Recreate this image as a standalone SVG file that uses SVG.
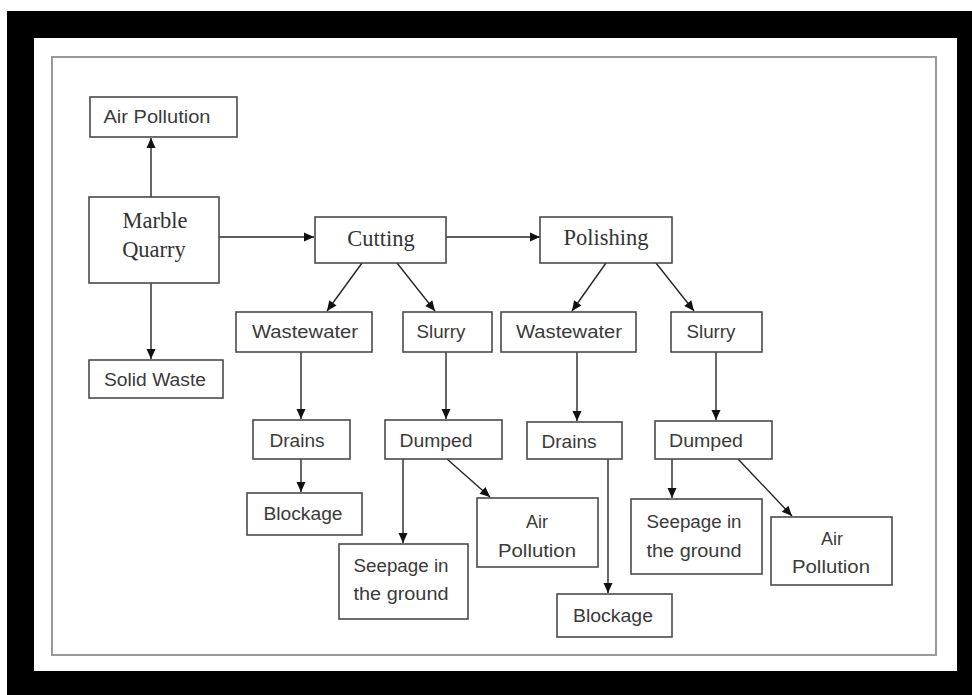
<svg xmlns="http://www.w3.org/2000/svg" width="972" height="695" viewBox="0 0 972 695">
<style>
.box{fill:#fff;stroke:#4a4a4a;stroke-width:1.6}
.sans{font-family:"Liberation Sans",Arial,sans-serif;font-size:17.5px;fill:#3a3a3a;text-anchor:middle}
.serif{font-family:"Liberation Serif","Times New Roman",serif;font-size:22.5px;fill:#333;text-anchor:middle}
.conn line{stroke:#262626;stroke-width:1.4;marker-end:url(#ah)}
</style>
<defs>
<marker id="ah" markerUnits="userSpaceOnUse" markerWidth="12" markerHeight="12" viewBox="0 0 12 12" refX="11" refY="6" orient="auto">
<path d="M1,1.5 L11,6 L1,10.5 Z" fill="#111"/>
</marker>
</defs>
<rect x="0" y="0" width="972" height="695" fill="#fff"/>
<path d="M7,11 H972 V695 H7 Z M34,38 V671 H957 V38 Z" fill="#000" fill-rule="evenodd"/>
<rect x="52" y="57" width="884" height="598" fill="none" stroke="#999" stroke-width="2"/>

<g class="conn">
<line x1="151" y1="197" x2="151" y2="138"/>
<line x1="151" y1="283" x2="151" y2="359"/>
<line x1="219" y1="237" x2="314" y2="237"/>
<line x1="446" y1="237" x2="540" y2="237"/>
<line x1="362" y1="263" x2="327" y2="311"/>
<line x1="397" y1="263" x2="435" y2="311"/>
<line x1="606" y1="263" x2="572" y2="311"/>
<line x1="656" y1="263" x2="694" y2="311"/>
<line x1="301" y1="352" x2="301" y2="419"/>
<line x1="301" y1="459" x2="301" y2="492"/>
<line x1="446" y1="352" x2="446" y2="419"/>
<line x1="403" y1="459" x2="403" y2="543"/>
<line x1="447" y1="459" x2="490" y2="497"/>
<line x1="577" y1="352" x2="577" y2="421"/>
<line x1="608" y1="459" x2="608" y2="593"/>
<line x1="716" y1="352" x2="716" y2="420"/>
<line x1="672" y1="459" x2="672" y2="498"/>
<line x1="738" y1="459" x2="792" y2="516"/>
</g>

<g id="air-pollution-top"><rect class="box" x="90" y="97" width="147" height="40"/><text class="sans" x="157" y="123" textLength="107" lengthAdjust="spacingAndGlyphs">Air Pollution</text></g>
<g id="marble-quarry"><rect class="box" x="89" y="197" width="130" height="86"/><text class="serif" x="155" y="228">Marble</text><text class="serif" x="154" y="257">Quarry</text></g>
<g id="solid-waste"><rect class="box" x="89" y="360" width="134" height="38"/><text class="sans" x="155" y="386" textLength="102" lengthAdjust="spacingAndGlyphs">Solid Waste</text></g>
<g id="cutting"><rect class="box" x="315" y="217" width="131" height="46"/><text class="serif" x="381" y="246">Cutting</text></g>
<g id="polishing"><rect class="box" x="540" y="217" width="132" height="46"/><text class="serif" x="606" y="245">Polishing</text></g>

<g id="wastewater-1"><rect class="box" x="236" y="312" width="136" height="40"/><text class="sans" x="305" y="338" textLength="106" lengthAdjust="spacingAndGlyphs">Wastewater</text></g>
<g id="slurry-1"><rect class="box" x="403" y="312" width="89" height="40"/><text class="sans" x="441" y="338" textLength="49" lengthAdjust="spacingAndGlyphs">Slurry</text></g>
<g id="wastewater-2"><rect class="box" x="501" y="312" width="135" height="40"/><text class="sans" x="569" y="338" textLength="106" lengthAdjust="spacingAndGlyphs">Wastewater</text></g>
<g id="slurry-2"><rect class="box" x="671" y="312" width="91" height="40"/><text class="sans" x="711" y="338" textLength="49" lengthAdjust="spacingAndGlyphs">Slurry</text></g>

<g id="drains-1"><rect class="box" x="253" y="420" width="97" height="39"/><text class="sans" x="297" y="447" textLength="55" lengthAdjust="spacingAndGlyphs">Drains</text></g>
<g id="blockage-1"><rect class="box" x="247" y="493" width="115" height="42"/><text class="sans" x="303" y="520" textLength="79" lengthAdjust="spacingAndGlyphs">Blockage</text></g>
<g id="dumped-1"><rect class="box" x="385" y="420" width="117" height="39"/><text class="sans" x="436" y="447" textLength="73" lengthAdjust="spacingAndGlyphs">Dumped</text></g>
<g id="seepage-1"><rect class="box" x="339" y="544" width="129" height="75"/><text class="sans" x="401" y="572" textLength="95" lengthAdjust="spacingAndGlyphs">Seepage in</text><text class="sans" x="401" y="600" textLength="95" lengthAdjust="spacingAndGlyphs">the ground</text></g>
<g id="air-pollution-2"><rect class="box" x="477" y="498" width="121" height="69"/><text class="sans" x="537" y="528" textLength="22" lengthAdjust="spacingAndGlyphs">Air</text><text class="sans" x="537" y="557" textLength="78" lengthAdjust="spacingAndGlyphs">Pollution</text></g>

<g id="drains-2"><rect class="box" x="527" y="422" width="95" height="37"/><text class="sans" x="569" y="448" textLength="55" lengthAdjust="spacingAndGlyphs">Drains</text></g>
<g id="blockage-2"><rect class="box" x="557" y="594" width="115" height="43"/><text class="sans" x="613" y="622" textLength="80" lengthAdjust="spacingAndGlyphs">Blockage</text></g>
<g id="dumped-2"><rect class="box" x="655" y="421" width="117" height="38"/><text class="sans" x="706" y="447" textLength="74" lengthAdjust="spacingAndGlyphs">Dumped</text></g>
<g id="seepage-2"><rect class="box" x="631" y="499" width="131" height="75"/><text class="sans" x="694" y="528" textLength="95" lengthAdjust="spacingAndGlyphs">Seepage in</text><text class="sans" x="694" y="557" textLength="95" lengthAdjust="spacingAndGlyphs">the ground</text></g>
<g id="air-pollution-3"><rect class="box" x="771" y="517" width="121" height="68"/><text class="sans" x="832" y="545" textLength="22" lengthAdjust="spacingAndGlyphs">Air</text><text class="sans" x="831" y="573" textLength="78" lengthAdjust="spacingAndGlyphs">Pollution</text></g>
</svg>
